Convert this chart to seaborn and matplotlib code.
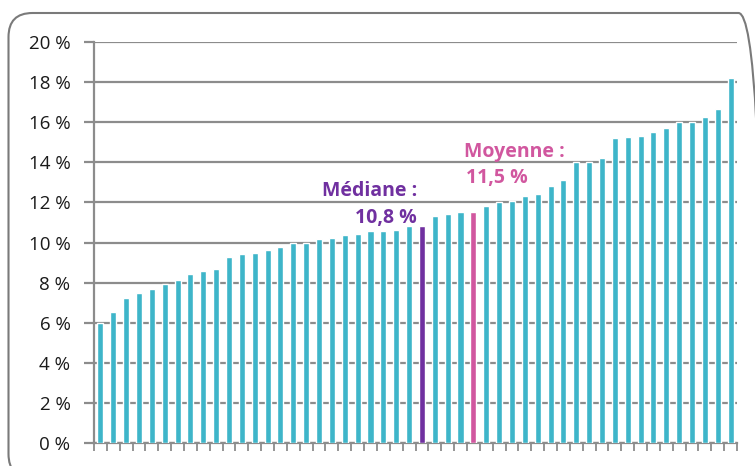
import numpy as np
import pandas as pd
import matplotlib
matplotlib.use("Agg")
import matplotlib.pyplot as plt
import matplotlib.transforms as mtransforms
from matplotlib.patches import FancyBboxPatch
import seaborn as sns

# Ranked rates (%), lowest to highest, split around the two reference bars
rates_low = [6.0, 6.55, 7.25, 7.5, 7.7, 7.95, 8.15, 8.45, 8.6, 8.7,
             9.3, 9.45, 9.5, 9.65, 9.8, 10.0, 10.0, 10.15, 10.2, 10.35,
             10.4, 10.55, 10.55, 10.6, 10.8]
rates_mid = [11.3, 11.4, 11.5]
rates_high = [11.8, 12.0, 12.05, 12.3, 12.4, 12.8, 13.1, 14.0, 14.0, 14.2,
              15.2, 15.25, 15.3, 15.5, 15.7, 16.0, 16.0, 16.25, 16.65, 18.2]
median_rate = 10.8
mean_rate = 11.5
median_label = "Médiane :"
mean_label = "Moyenne :"
y_ticks = [0, 2, 4, 6, 8, 10, 12, 14, 16, 18, 20]

TEAL = "#3EB5C9"
PURPLE = "#7030A0"
PINK = "#D1579F"
GREY = "#8C8C8C"

values = rates_low + [median_rate] + rates_mid + [mean_rate] + rates_high
n = len(values)
median_pos = len(rates_low)
mean_pos = len(rates_low) + 1 + len(rates_mid)
colors = [TEAL] * n
colors[median_pos] = PURPLE
colors[mean_pos] = PINK

df = pd.DataFrame({"rank": [str(i) for i in range(n)], "rate": values})

sns.set_theme(style="white")
plt.rcParams["font.family"] = ["Open Sans", "DejaVu Sans"]

fig = plt.figure(figsize=(7.55, 4.66), dpi=100)
ax = fig.add_axes([94 / 755, 23 / 466, (737 - 94) / 755, (443 - 42) / 466])

sns.barplot(data=df, x="rank", y="rate", hue="rank", palette=colors,
            width=0.47, legend=False, saturation=1, ax=ax, zorder=3)

ax.set_xlim(-0.5, n - 0.5)
ax.set_ylim(0, 20)
ax.set_xlabel("")
ax.set_ylabel("")

# horizontal grid at each tick
for yv in y_ticks:
    ax.axhline(yv, color=GREY, lw=1.6, zorder=1)

ax.set_yticks(y_ticks)
ax.set_yticklabels([f"{v} %" for v in y_ticks], fontsize=13.5, color="#1A1A1A")
ax.set_xticks(np.arange(-0.5, n, 1.0))
ax.set_xticklabels([])
ax.tick_params(axis="y", left=True, length=7, width=1.6, color=GREY, pad=10)
ax.tick_params(axis="x", bottom=True, length=6, width=1.3, color=GREY)

for side in ["top", "right"]:
    ax.spines[side].set_visible(False)
ax.spines["left"].set_color(GREY)
ax.spines["left"].set_linewidth(1.6)
ax.spines["bottom"].set_color(GREY)
ax.spines["bottom"].set_linewidth(1.6)

label_size = 14
ax.text(median_pos - 0.4, 12.32, median_label, ha="right", va="baseline",
        fontsize=label_size, fontweight="bold", color=PURPLE)
ax.text(median_pos - 0.4, 10.99, f"{median_rate:.1f} %".replace(".", ","),
        ha="right", va="baseline", fontsize=label_size, fontweight="bold", color=PURPLE)
ax.text(mean_pos - 0.75, 14.28, mean_label, ha="left", va="baseline",
        fontsize=label_size, fontweight="bold", color=PINK)
ax.text(mean_pos - 0.55, 12.97, f"{mean_rate:.1f} %".replace(".", ","),
        ha="left", va="baseline", fontsize=label_size, fontweight="bold", color=PINK)

# rounded frame around the figure (pixel coordinates)
frame = FancyBboxPatch((8.5, -12), 754, 465,
                       boxstyle="round,pad=0,rounding_size=24",
                       transform=mtransforms.IdentityTransform(),
                       facecolor="none", edgecolor="#7A7A7A", lw=1.5)
fig.patches.append(frame)

fig.savefig("out.png", dpi=100)
